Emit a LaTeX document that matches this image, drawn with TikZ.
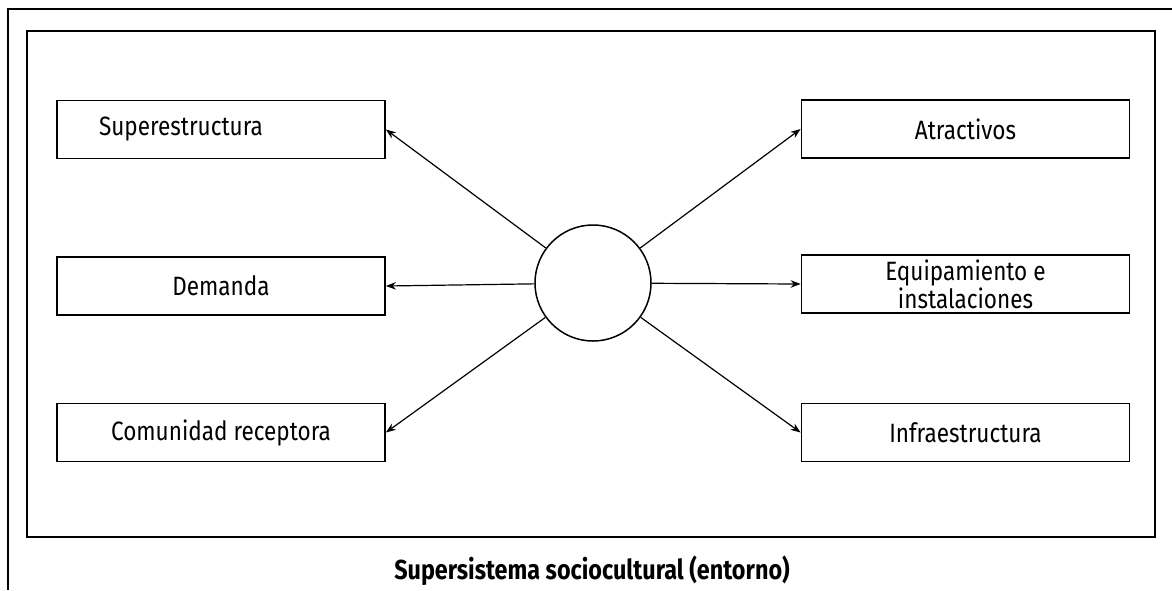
\documentclass[tikz,border=0pt]{standalone}
\usepackage{fontspec}
\setmainfont{Fira Sans}[FakeStretch=0.85]
\usetikzlibrary{arrows.meta}
\tikzset{>={Stealth[length=10pt,width=7.5pt]}}
\tikzset{caja/.style={draw,line width=1.8pt,minimum width=328pt,minimum height=58pt,
    inner sep=0pt,align=center,font=\fontsize{26.5}{28}\selectfont}}
\tikzset{flecha/.style={->,line width=1.2pt}}

\begin{document}
\begin{tikzpicture}[x=1pt,y=-1pt]
    \useasboundingbox (0,0) rectangle (1172,590);
    \draw[line width=1.5pt] (1172,9) -- (8,9) -- (8,590);
    \draw[line width=1.8pt] (27,31) rectangle (1155,537);
    \node[draw,circle,line width=1.5pt,minimum size=116pt] (sis) at (593,283) {};
    \node[caja] (sup) at (221,129.5) {\hspace*{-80pt}Superestructura};
    \node[caja] (dem) at (221,286) {Demanda};
    \node[caja] (com) at (221,432.5) {Comunidad receptora};
    \node[caja] (atr) at (965.5,129) {Atractivos};
    \node[caja] (equ) at (965.5,284) {Equipamiento e\\instalaciones};
    \node[caja] (inf) at (965.5,432.5) {Infraestructura};
    \draw[flecha] (sis) -- (sup.east);
    \draw[flecha] (sis) -- (dem.east);
    \draw[flecha] (sis) -- (com.east);
    \draw[flecha] (sis) -- (atr.west);
    \draw[flecha] (sis) -- (equ.west);
    \draw[flecha] (sis) -- (inf.west);
    \node[font=\fontsize{27.5}{29}\selectfont\bfseries] (pie) at (592,571) {Supersistema sociocultural (entorno)};
\end{tikzpicture}
\end{document}
